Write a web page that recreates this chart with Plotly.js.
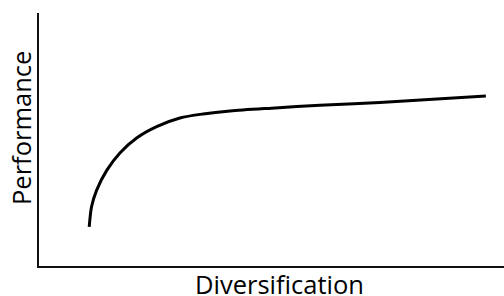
<!DOCTYPE html>
<html>
<head>
<meta charset="utf-8">
<script src="https://cdn.plot.ly/plotly-3.0.1.min.js"></script>
<style>html,body{margin:0;padding:0;background:#fff;}#chart{width:504px;height:296px;}</style>
</head>
<body>
<div id="chart"></div>
<script>
const diversification = [10.8, 11.3, 12.4, 14.6, 17.4, 21.0, 25.3, 30.3, 35.3, 41.1, 50.0, 60.4, 73.3, 96.1];
const performance = [15.5, 23.4, 30.0, 37.9, 44.7, 50.6, 55.1, 58.5, 60.1, 61.3, 62.4, 63.5, 64.6, 67.2];
const xTitle = "Diversification";
const yTitle = "Performance";

const trace = {
  x: diversification,
  y: performance,
  type: "scatter",
  mode: "lines",
  line: {color: "#000", width: 3, shape: "spline", smoothing: 0.8},
  hoverinfo: "skip"
};

const axisCommon = {
  showgrid: false, zeroline: false, showticklabels: false, ticks: "",
  showline: true, linecolor: "#111", linewidth: 2, fixedrange: true
};

const layout = {
  width: 504, height: 296,
  margin: {l: 39, r: 0, t: 13, b: 30},
  paper_bgcolor: "#fff", plot_bgcolor: "#fff",
  showlegend: false,
  xaxis: Object.assign({range: [0, 100]}, axisCommon),
  yaxis: Object.assign({range: [0, 100]}, axisCommon),
  annotations: [
    {text: xTitle, xref: "paper", yref: "paper", x: 0.517, y: -0.070, xanchor: "center", yanchor: "middle",
     borderpad: 0, showarrow: false, font: {family: "Open Sans, sans-serif", size: 25.5, color: "#000"}},
    {text: yTitle, xref: "paper", yref: "paper", x: -0.040, y: 0.547, xanchor: "center", yanchor: "middle",
     borderpad: 0, textangle: -90, showarrow: false, font: {family: "Open Sans, sans-serif", size: 25.5, color: "#000"}}
  ]
};

Plotly.newPlot("chart", [trace], layout, {staticPlot: true, displayModeBar: false});
</script>
</body>
</html>
